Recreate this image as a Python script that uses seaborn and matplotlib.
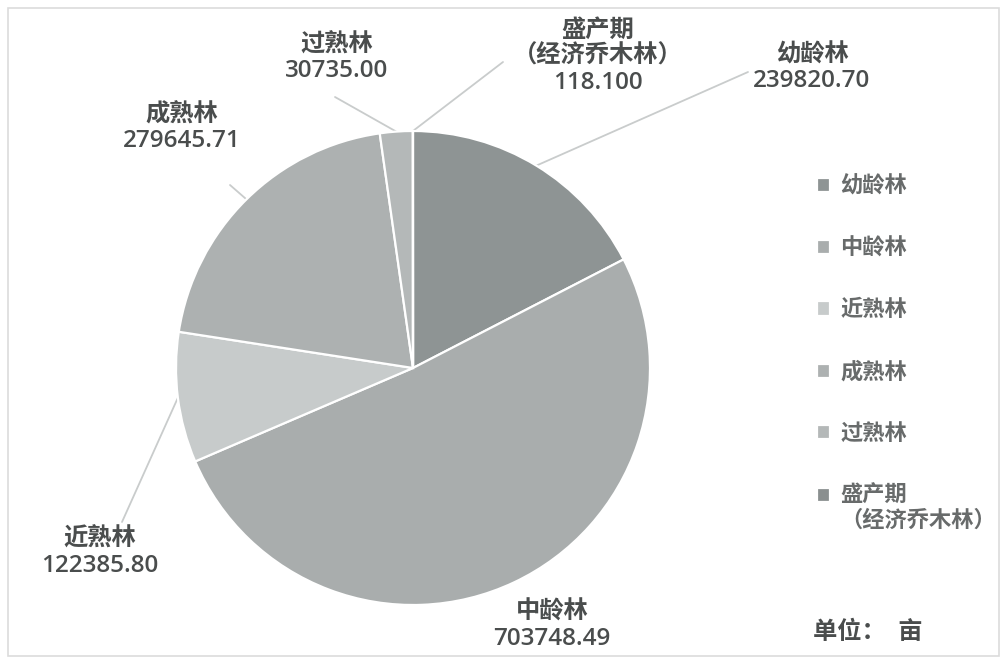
import numpy as np
import matplotlib
matplotlib.use("Agg")
import matplotlib.pyplot as plt
import seaborn as sns
from matplotlib.patches import Rectangle
from matplotlib.legend_handler import HandlerPatch

categories = ['幼龄林', '中龄林', '近熟林', '成熟林', '过熟林', '盛产期\n（经济乔木林）']
values = [239820.70, 703748.49, 122385.80, 279645.71, 30735.00, 118.100]
value_labels = ['239820.70', '703748.49', '122385.80', '279645.71', '30735.00', '118.100']
colors = ['#8e9494', '#a9adad', '#c7cbcb', '#adb1b1', '#b4b8b8', '#8a8f8f']

sns.set_theme(style='white')
plt.rcParams['font.family'] = ['Open Sans', 'Noto Sans CJK SC', 'DejaVu Sans']

W, H = 1007, 664
fig = plt.figure(figsize=(W / 100, H / 100), dpi=100)
ax = fig.add_axes([0, 0, 1, 1])

cx, cy, r = 413, H - 368, 237
wedges, _ = ax.pie(values, colors=colors, startangle=90, counterclock=False,
                   center=(cx, cy), radius=r, frame=True,
                   wedgeprops=dict(edgecolor='white', linewidth=1.6))
ax.set_xlim(0, W)
ax.set_ylim(0, H)
ax.set_aspect('equal')
ax.axis('off')

# label block centres and leader-line ends, in pixel coords (top-left origin)
label_xy = [(812, 68), (552, 626), (100, 553), (182, 128), (337, 58), (598, 57)]
line_end = [(748, 72), None, (122, 522), (230, 185), (335, 97), (503, 62)]

for w, cat, val, (lx, ly), le in zip(wedges, categories, value_labels, label_xy, line_end):
    mid = np.deg2rad((w.theta1 + w.theta2) / 2)
    px, py = cx + r * np.cos(mid), cy + r * np.sin(mid)
    if le is not None:
        ax.plot([px, le[0]], [py, H - le[1]], color='#c9cccc', lw=1.3, zorder=0)
    ax.text(lx, H - ly, f'{cat}\n{val}', ha='center', va='center', fontsize=17.5,
            color='#4a4d4d', linespacing=1.1, fontweight='semibold')


def first_line_patch(legend, orig_handle, xdescent, ydescent, width, height, fontsize):
    # put the square next to the first line of a two-line label
    return Rectangle((-xdescent, -ydescent + 0.62 * fontsize), width, height)


ax.legend(wedges, categories, loc='upper left', bbox_to_anchor=(806, H - 165),
          bbox_transform=ax.transData, frameon=False,
          prop=dict(size=16, weight='semibold'),
          handlelength=0.6, handleheight=0.6, handletextpad=0.45,
          labelspacing=1.83, labelcolor='#686b6b', borderpad=0,
          handler_map={wedges[5]: HandlerPatch(patch_func=first_line_patch)})

ax.text(813, H - 633, '单位：  亩', ha='left', va='center', fontsize=17.5,
        color='#4a4d4d', fontweight='semibold')

fig.add_artist(Rectangle((8 / W, 8 / H), (W - 16) / W, (H - 16) / H,
                         transform=fig.transFigure, fill=False,
                         edgecolor='#dcdcdc', lw=1.2))

fig.savefig('out.png', dpi=100, facecolor='white')
